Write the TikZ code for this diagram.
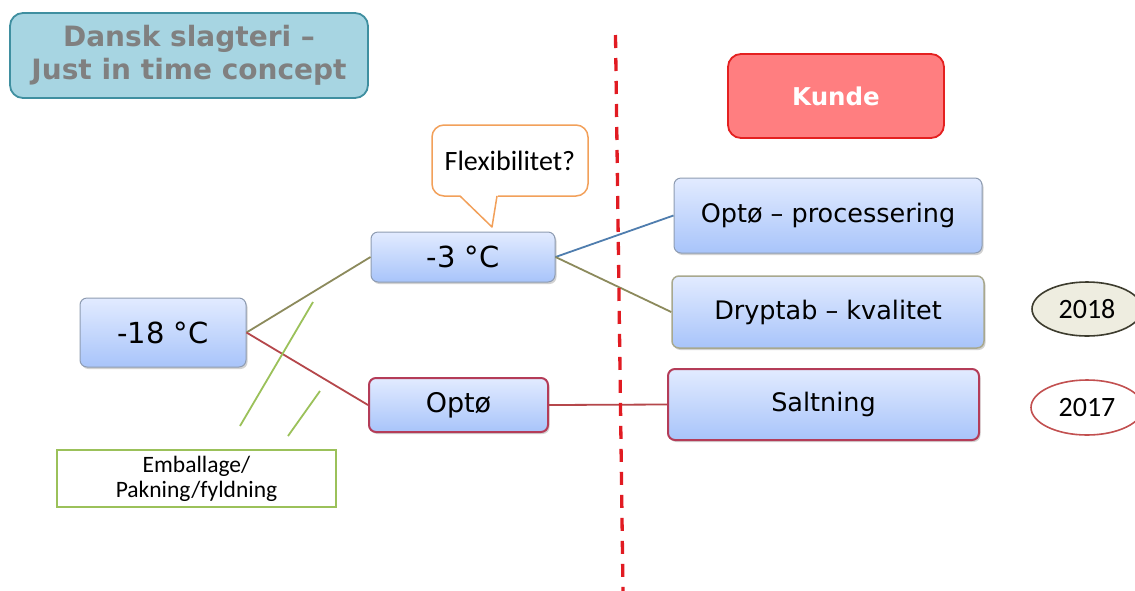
\documentclass[tikz,border=0pt]{standalone}
\usepackage{fontspec}
\setmainfont{DejaVu Sans}
\newfontfamily\calib{Carlito}
\usetikzlibrary{shadows,shapes.geometric}
\definecolor{titlefill}{HTML}{A7D5E2}
\definecolor{titledraw}{HTML}{3F8FA0}
\definecolor{titletext}{HTML}{808080}
\definecolor{kundefill}{HTML}{FF7E80}
\definecolor{kundedraw}{HTML}{E42020}
\definecolor{boxtop}{HTML}{E2EBFF}
\definecolor{boxbot}{HTML}{A8C4FA}
\definecolor{boxdraw}{HTML}{8E9CB2}
\definecolor{olivedraw}{HTML}{A8A88E}
\definecolor{wine}{HTML}{B43C58}
\definecolor{linered}{HTML}{B5474B}
\definecolor{lineolive}{HTML}{8C8A5C}
\definecolor{lineblue}{HTML}{4F7DAE}
\definecolor{lgreen}{HTML}{9BC15A}
\definecolor{orangec}{HTML}{F2A05A}
\definecolor{dashred}{HTML}{E11B22}
\definecolor{ellfill}{HTML}{EEEDE0}
\definecolor{elldraw}{HTML}{3D3C2E}
\definecolor{ellred}{HTML}{C25050}
\tikzset{
  bluebox/.style={rectangle, rounded corners=7pt, top color=boxtop, bottom color=boxbot,
    draw=boxdraw, line width=1pt, align=center,
    drop shadow={opacity=0.35, shadow xshift=1.5pt, shadow yshift=-2pt}},
  conn/.style={line width=1.8pt},
  yearell/.style={ellipse, line width=1.6pt, font=\calib\fontsize{28}{30}\selectfont},
}
\begin{document}
\begin{tikzpicture}[x=1pt,y=-1pt]
\useasboundingbox (0,0) rectangle (1135,590);
\fill[white] (0,0) rectangle (1135,590);

% title
\node[rectangle, rounded corners=13pt, fill=titlefill, draw=titledraw, line width=1.8pt,
  minimum width=358pt, minimum height=85pt, align=center, text=titletext,
  font=\bfseries\fontsize{28}{33}\selectfont] (title) at (189,55.5)
  {Dansk slagteri –\\Just in time concept};

% Kunde
\node[rectangle, rounded corners=13pt, fill=kundefill, draw=kundedraw, line width=1.8pt,
  minimum width=216pt, minimum height=84pt, text=white,
  font=\bfseries\fontsize{24.5}{28}\selectfont] (kunde) at (836,96) {Kunde};

% boxes
\node[bluebox, minimum width=166pt, minimum height=69pt, font=\fontsize{29}{32}\selectfont] (m18) at (163,332.5) {-18 °C};
\node[bluebox, minimum width=184pt, minimum height=50pt, font=\fontsize{29}{32}\selectfont] (m3) at (463,257) {-3 °C};
\node[bluebox, draw=wine, line width=2pt, minimum width=179pt, minimum height=54pt, font=\fontsize{27}{30}\selectfont] (opto) at (458.5,405) {Optø};
\node[bluebox, minimum width=308pt, minimum height=75pt, font=\fontsize{25.5}{28}\selectfont] (proc) at (828,215.5) {Optø – processering};
\node[bluebox, draw=olivedraw, line width=1.5pt, minimum width=312pt, minimum height=72pt, font=\fontsize{25.5}{28}\selectfont] (dryp) at (828,312) {Dryptab – kvalitet};
\node[bluebox, draw=wine, line width=2pt, minimum width=311pt, minimum height=71pt, font=\fontsize{25.5}{28}\selectfont] (salt) at (823.5,404.5) {Saltning};

% callout
\node[rectangle, rounded corners=12pt, fill=white, draw=orangec, line width=1.5pt,
  minimum width=156pt, minimum height=71pt, font=\calib\fontsize{28}{32}\selectfont] (flex) at (510,160.5) {Flexibilitet?};
\coordinate (pl) at (460,196);
\coordinate (ptip) at (492,227);
\coordinate (pr) at (497,196);
\fill[white] (459,194) -- (ptip) -- (498,194) -- cycle;
\draw[orangec, line width=1.5pt, line join=round] (pl) -- (ptip) -- (pr);

% connectors
\draw[conn, lineolive] (m18.east) -- (m3.west);
\draw[conn, linered] (m18.east) -- (opto.west);
\draw[conn, lineblue] (m3.east) -- (proc.west);
\draw[conn, lineolive] (m3.east) -- (dryp.west);
\draw[conn, linered] (opto.east) -- (salt.west);

% dashed line
\coordinate (dtop) at (615.5,35);
\coordinate (dbot) at (623,592);
\draw[dashred, line width=3.3pt, dash pattern=on 13pt off 10pt] (dtop) -- (dbot);

% green strokes
\coordinate (g1a) at (240,426);
\coordinate (g1b) at (313,302);
\coordinate (g2a) at (288,436);
\coordinate (g2b) at (320,391);
\draw[lgreen, line width=1.8pt] (g1a) -- (g1b);
\draw[lgreen, line width=1.8pt] (g2a) -- (g2b);

% Emballage
\node[rectangle, draw=lgreen, line width=1.8pt, fill=white, minimum width=279pt, minimum height=57pt,
  align=center, font=\calib\fontsize{23.5}{25}\selectfont] (emb) at (196.5,478.5) {Emballage/\\Pakning/fyldning};

% years
\node[yearell, fill=ellfill, draw=elldraw, minimum width=110pt, minimum height=54pt] (y18) at (1087,309) {2018};
\node[yearell, fill=white, draw=ellred, minimum width=112pt, minimum height=55pt] (y17) at (1087,407.5) {2017};
\end{tikzpicture}
\end{document}
